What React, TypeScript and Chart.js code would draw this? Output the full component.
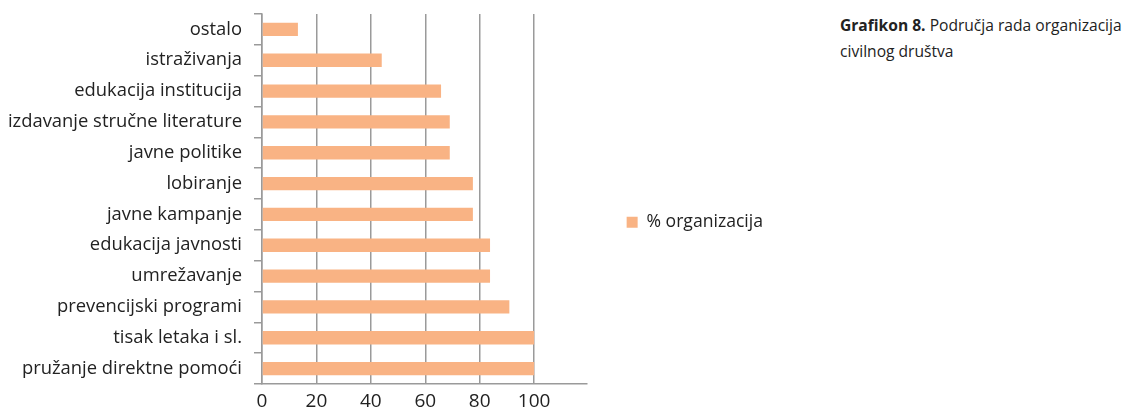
import React, { useEffect, useRef } from "react";
import { Chart, registerables } from "chart.js";

Chart.register(...registerables);

const categories = [
  "ostalo",
  "istraživanja",
  "edukacija institucija",
  "izdavanje stručne literature",
  "javne politike",
  "lobiranje",
  "javne kampanje",
  "edukacija javnosti",
  "umrežavanje",
  "prevencijski programi",
  "tisak letaka i sl.",
  "pružanje direktne pomoći",
];

const values = [13.2, 44, 65.8, 69, 69, 77.5, 77.5, 83.8, 83.8, 90.9, 100, 100];

const seriesLabel = "% organizacija";
const xTicks = [0, 20, 40, 60, 80, 100];
const FONT = "'Open Sans', Lato, sans-serif";

export default function App() {
  const ref = useRef<HTMLCanvasElement | null>(null);

  useEffect(() => {
    if (!ref.current) return;
    const chart = new Chart(ref.current, {
      type: "bar",
      data: {
        labels: categories,
        datasets: [
          {
            label: seriesLabel,
            data: values,
            backgroundColor: "#F9B384",
            borderWidth: 0,
            barPercentage: 0.43,
            categoryPercentage: 1,
          },
        ],
      },
      options: {
        indexAxis: "y",
        responsive: false,
        animation: false,
        layout: { padding: { top: 14, left: 0, right: 0, bottom: 0 } },
        plugins: {
          tooltip: { enabled: false },
          legend: {
            position: "right",
            align: "center",
            title: { display: true, text: "", padding: { top: 0, bottom: 20 }, font: { size: 2 } },
            labels: {
              boxWidth: 11,
              boxHeight: 11,
              padding: 40,
              color: "#222",
              font: { family: FONT, size: 17.6 },
            },
          },
        },
        scales: {
          x: {
            min: 0,
            max: 119.3,
            afterBuildTicks: (scale: any) => {
              scale.ticks = xTicks.map((v) => ({ value: v }));
            },
            afterFit: (scale: any) => {
              scale.height = 24;
              scale.paddingLeft = 0;
              scale.paddingRight = 0;
            },
            grid: {
              color: "#9a9a9a",
              lineWidth: 1.5,
              drawTicks: false,
            },
            border: { color: "#9a9a9a", width: 1.5 },
            ticks: {
              padding: 6,
              color: "#222",
              font: { family: FONT, size: 19 },
            },
          },
          y: {
            afterFit: (scale: any) => {
              scale.width = 262;
              scale.paddingTop = 0;
              scale.paddingBottom = 0;
            },
            grid: {
              offset: true,
              drawOnChartArea: false,
              drawTicks: true,
              tickLength: 8,
              color: "#9a9a9a",
              lineWidth: 1.5,
            },
            border: { color: "#9a9a9a", width: 1.5 },
            ticks: {
              padding: 12,
              color: "#222",
              font: { family: FONT, size: 18.4 },
            },
          },
        },
      },
    });
    return () => chart.destroy();
  }, []);

  return (
    <div style={{ position: "absolute", left: 0, top: 0, width: 1131, height: 408, background: "#fff" }}>
      <canvas ref={ref} width={773} height={408} style={{ position: "absolute", left: 0, top: 0 }} />
      <div
        style={{
          position: "absolute",
          left: 840,
          top: 12,
          fontFamily: FONT,
          fontSize: 15.6,
          lineHeight: "26px",
          color: "#222",
        }}
      >
        <b>Grafikon 8.</b> Područja rada organizacija
        <br />
        civilnog društva
      </div>
    </div>
  );
}
